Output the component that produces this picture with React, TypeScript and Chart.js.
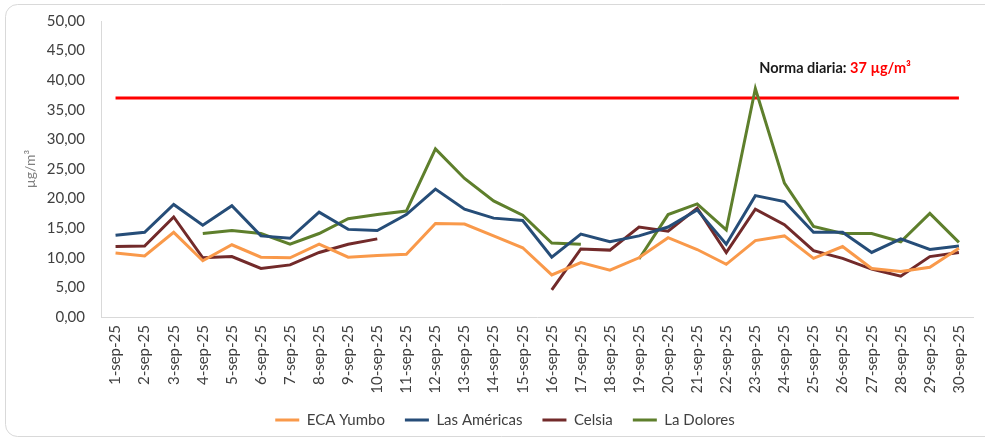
import React, { useEffect, useRef } from "react";
import { Chart, registerables } from "chart.js";

Chart.register(...registerables);

const categories = [
  "1-sep-25", "2-sep-25", "3-sep-25", "4-sep-25", "5-sep-25", "6-sep-25", "7-sep-25", "8-sep-25", "9-sep-25", "10-sep-25",
  "11-sep-25", "12-sep-25", "13-sep-25", "14-sep-25", "15-sep-25", "16-sep-25", "17-sep-25", "18-sep-25", "19-sep-25", "20-sep-25",
  "21-sep-25", "22-sep-25", "23-sep-25", "24-sep-25", "25-sep-25", "26-sep-25", "27-sep-25", "28-sep-25", "29-sep-25", "30-sep-25",
];

const ecaYumbo = [10.8, 10.3, 14.3, 9.5, 12.2, 10.1, 10.0, 12.3, 10.1, 10.4, 10.6, 15.8, 15.7, 13.7, 11.7, 7.1, 9.2, 7.9, 10.0, 13.4, 11.4, 8.9, 12.9, 13.7, 9.9, 11.9, 8.2, 7.7, 8.4, 11.6];
const lasAmericas = [13.8, 14.3, 19.0, 15.5, 18.8, 13.7, 13.3, 17.7, 14.8, 14.6, 17.3, 21.6, 18.2, 16.7, 16.3, 10.1, 14.0, 12.7, 13.7, 15.2, 18.1, 12.3, 20.5, 19.5, 14.3, 14.3, 10.9, 13.2, 11.4, 12.0];
const celsia = [11.9, 12.0, 16.9, 10.0, 10.2, 8.2, 8.8, 10.9, 12.3, 13.2, null, null, null, null, null, 4.6, 11.5, 11.3, 15.2, 14.5, 18.4, 10.9, 18.2, 15.6, 11.2, 9.9, 8.1, 6.9, 10.2, 10.9];
const laDolores = [null, null, null, 14.1, 14.6, 14.1, 12.3, 14.1, 16.6, 17.3, 17.9, 28.4, 23.4, 19.6, 17.2, 12.5, 12.3, null, 9.8, 17.3, 19.1, 14.7, 38.6, 22.6, 15.3, 14.1, 14.1, 12.7, 17.5, 12.6];
const normaDiaria = 37;

const seriesNames = ["ECA Yumbo", "Las Américas", "Celsia", "La Dolores"];
const seriesColors = ["#F9994A", "#264D78", "#722A2A", "#5E7F2C"];

const FONT = "Lato, 'Open Sans', sans-serif";

const framePlugin = {
  id: "frame",
  beforeDraw(chart: any) {
    const ctx = chart.ctx;
    ctx.save();
    ctx.fillStyle = "#FFFFFF";
    ctx.fillRect(0, 0, chart.width, chart.height);
    ctx.strokeStyle = "#D9D9D9";
    ctx.lineWidth = 1;
    ctx.beginPath();
    (ctx as any).roundRect(5.5, 4.5, chart.width + 20, chart.height - 10, 12);
    ctx.stroke();
    ctx.restore();
  },
};

const legendShiftPlugin = {
  id: "legendShift",
  afterLayout(chart: any) {
    const lg = chart.legend;
    if (lg) {
      lg.left += 15;
      lg.right += 15;
    }
  },
};

const notePlugin = {
  id: "note",
  afterDatasetsDraw(chart: any) {
    const ctx = chart.ctx;
    const x = chart.scales.x.getPixelForValue(22) + 4;
    const y = chart.scales.y.getPixelForValue(42);
    ctx.save();
    ctx.font = `bold 14.5px ${FONT}`;
    ctx.textBaseline = "middle";
    ctx.textAlign = "left";
    const a = "Norma diaria: ";
    ctx.fillStyle = "#1A1A1A";
    ctx.fillText(a, x, y);
    const w = ctx.measureText(a).width;
    ctx.fillStyle = "#FF0000";
    ctx.fillText(`${normaDiaria} µg/m³`, x + w, y);
    ctx.restore();
  },
};

export default function App() {
  const ref = useRef<HTMLCanvasElement | null>(null);

  useEffect(() => {
    document.body.style.margin = "0";
    if (!ref.current) return;
    const seriesData = [ecaYumbo, lasAmericas, celsia, laDolores];
    const datasets: any[] = seriesData.map((d, i) => ({
      label: seriesNames[i],
      data: d,
      borderColor: seriesColors[i],
      backgroundColor: seriesColors[i],
      borderWidth: 3,
      pointRadius: 0,
      tension: 0,
      spanGaps: false,
      order: i + 1,
    }));
    datasets.push({
      label: "Norma",
      data: categories.map(() => normaDiaria),
      borderColor: "#FF0000",
      backgroundColor: "#FF0000",
      borderWidth: 3,
      pointRadius: 0,
      order: 10,
    });

    const chart = new Chart(ref.current, {
      type: "line",
      data: { labels: categories, datasets },
      plugins: [framePlugin, legendShiftPlugin, notePlugin],
      options: {
        animation: false,
        responsive: false,
        devicePixelRatio: 1,
        layout: { padding: { left: 0, right: 5, top: 21, bottom: 4.5 } },
        plugins: {
          legend: {
            position: "bottom",
            labels: {
              filter: (item: any) => item.text !== "Norma",
              usePointStyle: true,
              pointStyle: "line",
              pointStyleWidth: 24,
              padding: 20,
              color: "#404040",
              font: { family: FONT, size: 15 },
            },
          },
          tooltip: { enabled: false },
        },
        scales: {
          x: {
            offset: true,
            grid: { display: false, drawTicks: false, offset: true },
            border: { display: true, color: "#D9D9D9" },
            ticks: {
              minRotation: 90,
              maxRotation: 90,
              autoSkip: false,
              padding: 8,
              color: "#404040",
              font: { family: FONT, size: 15 },
            },
            afterFit: (scale: any) => {
              scale.height = 75.5;
            },
          },
          y: {
            min: 0,
            max: 50,
            grid: { display: false, drawTicks: false },
            border: { display: true, color: "#D9D9D9" },
            ticks: {
              stepSize: 5,
              padding: 16,
              color: "#404040",
              font: { family: FONT, size: 15 },
              callback: (v: any) => Number(v).toFixed(2).replace(".", ","),
            },
            title: {
              display: true,
              text: "µg/m³",
              color: "#7F7F7F",
              font: { family: FONT, size: 14 },
              padding: { top: 22, bottom: 0 },
            },
            afterFit: (scale: any) => {
              scale.width = 101;
              scale.paddingTop = 0;
              scale.paddingBottom = 0;
            },
          },
        },
      },
    });
    return () => chart.destroy();
  }, []);

  return (
    <div style={{ width: 985, height: 442 }}>
      <canvas ref={ref} width={985} height={442} style={{ display: "block" }} />
    </div>
  );
}
